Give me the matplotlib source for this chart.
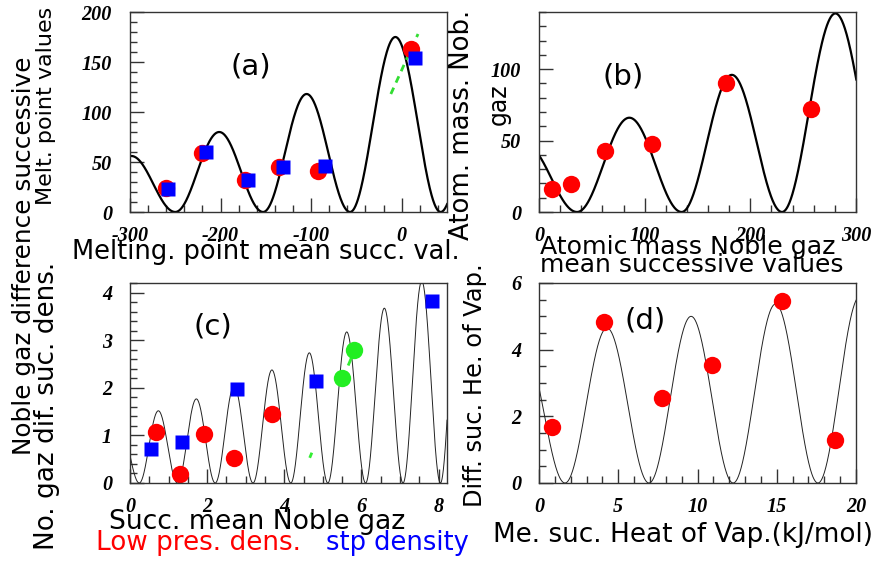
import matplotlib.pyplot as plt
import numpy as np
from matplotlib.ticker import MultipleLocator

plt.rcParams['font.family'] = 'Liberation Serif'
plt.rcParams['font.weight'] = 'bold'
plt.rcParams['font.style'] = 'italic'
plt.rcParams['axes.unicode_minus'] = False
plt.rcParams['lines.scale_dashes'] = False

# (a) melting point
a_red_x = [-260, -221, -173, -135, -92, 10]
a_red_y = [24, 59, 32, 45, 41, 163]
a_blue_x = [-258, -216, -170, -131, -85, 15]
a_blue_y = [23, 60, 32, 45, 46, 154]
a_fit_x = [-12, 18]
a_fit_y = [118, 178]
a_zeros = [-347, -250, -153, -57, 43, 140]
a_peaks = [56, 80, 118, 175, 150]

# (b) atomic mass
b_x = [12, 30, 62, 107, 177, 257]
b_y = [16, 19.6, 43, 47.5, 90, 72]
b_zeros = [-61, 36, 135, 230, 331]
b_peaks = [47, 66, 96, 139]

# (c) density
c_red_x = [0.67, 1.3, 1.92, 2.69, 3.69]
c_red_y = [1.07, 0.19, 1.03, 0.53, 1.45]
c_blue_x = [0.54, 1.35, 2.78, 4.83, 7.83]
c_blue_y = [0.72, 0.87, 1.98, 2.15, 3.83]
c_green_x = [5.5, 5.81]
c_green_y = [2.2, 2.8]
c_fit_x = [4.66, 5.8]
c_fit_y = [0.53, 2.75]
c_zeros = [-0.74, 0.24, 1.23, 2.21, 3.19, 4.17, 5.13, 6.11, 7.08, 8.05, 9.03]
c_peaks = [1.2, 1.52, 1.77, 2.04, 2.38, 2.74, 3.18, 3.68, 4.25, 4.9]

# (d) heat of vaporization
d_x = [0.82, 4.1, 7.76, 10.9, 15.3, 18.7]
d_y = [1.68, 4.83, 2.55, 3.54, 5.46, 1.29]
d_zeros = [-3.66, 1.64, 6.94, 12.25, 17.6, 22.9]
d_peaks = [4.2, 4.65, 5.0, 5.37, 5.6]

W, H = 876, 561
fig = plt.figure(figsize=(W / 100, H / 100), dpi=100)
rend = fig.canvas.get_renderer()


def humps(zeros, peaks):
    xs, ys = [], []
    for i in range(len(peaks)):
        x = np.linspace(zeros[i], zeros[i + 1], 300)
        xs.append(x)
        ys.append(peaks[i] * np.sin(np.pi * (x - zeros[i]) / (zeros[i + 1] - zeros[i])) ** 2)
    return np.concatenate(xs), np.concatenate(ys)


def make_ax(l, t, r, b, xlim, ylim, xmaj, xmin, ymaj, ymin):
    ax = fig.add_axes([l / W, 1 - b / H, (r - l) / W, (b - t) / H])
    ax.set_xlim(*xlim)
    ax.set_ylim(*ylim)
    ax.xaxis.set_major_locator(MultipleLocator(xmaj))
    ax.xaxis.set_minor_locator(MultipleLocator(xmin))
    ax.yaxis.set_major_locator(MultipleLocator(ymaj))
    ax.yaxis.set_minor_locator(MultipleLocator(ymin))
    ax.tick_params(which='both', direction='in', top=False, right=False, width=1, color='#333333')
    ax.tick_params(which='major', length=10, labelsize=14.5)
    ax.tick_params(axis='y', which='major', pad=13)
    ax.tick_params(axis='x', which='major', pad=10)
    ax.tick_params(which='minor', length=5)
    for s in ax.spines.values():
        s.set_linewidth(1)
        s.set_color('#333333')
    return ax


def ftxt(x, y, s, length=None, size=16, rotation=0, **kw):
    # place text at pixel centre, scale font so it spans "length" pixels
    t = fig.text(x / W, 1 - y / H, s, ha='center', va='center', fontsize=size,
                 rotation=rotation, family='DejaVu Sans', weight='normal',
                 style='normal', **kw)
    if length:
        bb = t.get_window_extent(rend)
        cur = bb.height if rotation else bb.width
        t.set_fontsize(size * length / cur)
    return t


# panel (a)
ax = make_ax(130, 12, 447, 212, (-300, 50), (0, 200), 100, 20, 50, 10)
x, y = humps(a_zeros, a_peaks)
ax.plot(x, y, color='black', lw=1.6)
ax.plot(a_fit_x, a_fit_y, color='#33dd33', lw=2, linestyle=(0, (5, 4)))
ax.plot(a_red_x, a_red_y, 'o', color='red', ms=12.5, mec='none')
ax.plot(a_blue_x, a_blue_y, 's', color='blue', ms=10.5, mec='none')

# panel (b)
ax = make_ax(539, 12, 856, 212, (0, 300), (0, 140), 100, 20, 50, 10)
x, y = humps(b_zeros, b_peaks)
ax.plot(x, y, color='black', lw=1.6)
ax.plot(b_x, b_y, 'o', color='red', ms=12.5, mec='none')

# panel (c)
ax = make_ax(130, 283, 447, 483, (0, 8.22), (0, 4.21), 2, 0.5, 1, 0.2)
x, y = humps(c_zeros, c_peaks)
ax.plot(x, y, color='#222222', lw=0.7)
ax.plot(c_fit_x, c_fit_y, color='#33ee33', lw=2, linestyle=(0, (4, 68, 8, 20)))
ax.plot(c_red_x, c_red_y, 'o', color='red', ms=12.5, mec='none')
ax.plot(c_blue_x, c_blue_y, 's', color='blue', ms=10.5, mec='none')
ax.plot(c_green_x, c_green_y, 'o', color='#22ee22', ms=12.5, mec='none')

# panel (d)
ax = make_ax(539, 283, 856, 483, (0, 20), (0, 6), 5, 1, 2, 0.5)
x, y = humps(d_zeros, d_peaks)
ax.plot(x, y, color='#222222', lw=0.7)
ax.plot(d_x, d_y, 'o', color='red', ms=12.5, mec='none')

# panel tags
ftxt(251, 66, '(a)', size=21)
ftxt(623, 77, '(b)', size=21)
ftxt(213, 327, '(c)', size=21)
ftxt(645, 320, '(d)', size=21)

# axis titles
ftxt(24, 256, 'Noble gaz difference successive', 398, rotation=90)
ftxt(46, 106, 'Melt. point values', size=16, rotation=90)
ftxt(47, 406, 'No. gaz dif. suc. dens.', 288, rotation=90)
ftxt(266, 252, 'Melting. point mean succ. val.', 388)
ftxt(462, 125, 'Atom. mass. Nob.', 230, rotation=90)
ftxt(499, 104, 'gaz', 42, rotation=90)
ftxt(688, 247, 'Atomic mass Noble gaz', 297)
ftxt(692, 265, 'mean successive values', 303)
ftxt(257, 522, 'Succ. mean Noble gaz', 297)
ftxt(199, 543, 'Low pres. dens.', 205, color='red')
ftxt(397, 543, 'stp density', 143, color='blue')
ftxt(475, 385, 'Diff. suc. He. of Vap.', 244, rotation=90)
ftxt(683, 535, 'Me. suc. Heat of Vap.(kJ/mol)', 380)

fig.savefig('out.png', dpi=100)
